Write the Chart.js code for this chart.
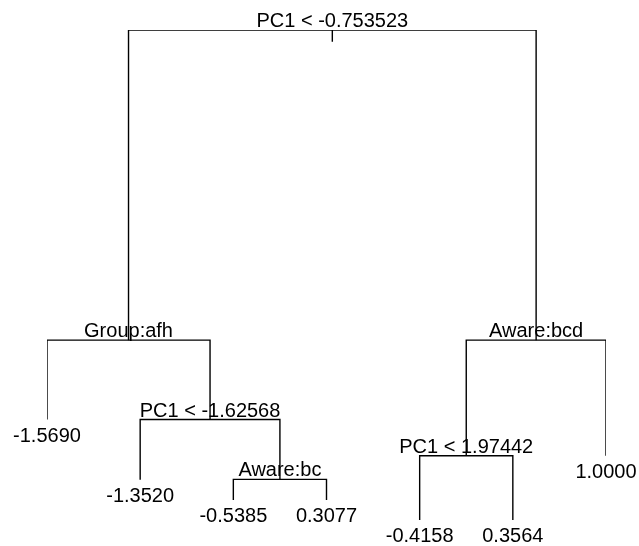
<!DOCTYPE html>
<html>
<head>
<meta charset="utf-8">
<script src="https://cdn.jsdelivr.net/npm/chart.js@4/dist/chart.umd.min.js"></script>
<style>
  html, body { margin: 0; padding: 0; background: #fff; }
  #wrap { width: 639px; height: 546px; }
</style>
</head>
<body>
<div id="wrap"><canvas id="myChart"></canvas></div>
<script>

// regression tree, nodes in pre-order
var nodeLabel = ['PC1 < -0.753523', 'Group:afh', '-1.5690', 'PC1 < -1.62568', '-1.3520',
  'Aware:bc', '-0.5385', '0.3077', 'Aware:bcd', 'PC1 < 1.97442', '-0.4158', '0.3564', '1.0000'];
var nodeParent = [-1, 0, 1, 1, 3, 3, 5, 5, 0, 8, 9, 9, 8];
var leafRank = [null, null, 1, null, 2, null, 3, 4, null, null, 5, 6, 7]; // leaf order left to right
var nodeDev = [100, 36.7, 20.5, 20.5, 8.2, 8.3, 4.1, 4.1, 36.7, 13.1, 0, 0, 13.1]; // height (deviance scale)
var rootStub = 97.6;

function children(i) {
  var c = [];
  nodeParent.forEach((p, j) => { if (p === i) c.push(j); });
  return c;
}

// x of an internal node = middle of its two children
var nodeX = leafRank.slice();
for (let i = nodeLabel.length - 1; i >= 0; i--) {
  if (nodeX[i] === null) {
    let c = children(i);
    nodeX[i] = (nodeX[c[0]] + nodeX[c[1]]) / 2;
  }
}

var datasets = [];
for (let i = 0; i < nodeLabel.length; i++) {
  let c = children(i);
  if (c.length === 2) {
    datasets.push({
      data: [
        { x: nodeX[c[0]], y: nodeDev[c[0]] },
        { x: nodeX[c[0]], y: nodeDev[i] },
        { x: nodeX[c[1]], y: nodeDev[i] },
        { x: nodeX[c[1]], y: nodeDev[c[1]] }
      ]
    });
  }
}
// little tick under the root split
datasets.push({ data: [{ x: nodeX[0], y: nodeDev[0] }, { x: nodeX[0], y: rootStub }] });

datasets.forEach((d) => {
  d.showLine = true;
  d.borderColor = '#000';
  d.borderWidth = 1.4;
  d.pointRadius = 0;
  d.tension = 0;
});

var treeLabels = {
  id: 'treeLabels',
  afterDatasetsDraw(chart) {
    var ctx = chart.ctx;
    var xs = chart.scales.x, ys = chart.scales.y;
    ctx.save();
    ctx.font = '20px "Liberation Sans", Arial, sans-serif';
    ctx.fillStyle = '#000';
    ctx.textAlign = 'center';
    ctx.textBaseline = 'alphabetic';
    for (let i = 0; i < nodeLabel.length; i++) {
      let px = xs.getPixelForValue(nodeX[i]);
      let py = ys.getPixelForValue(nodeDev[i]);
      if (leafRank[i] === null) {
        ctx.fillText(nodeLabel[i], px, py - 3);
      } else {
        ctx.fillText(nodeLabel[i], px, py + 22);
      }
    }
    ctx.restore();
  }
};

var ctx = document.getElementById('myChart').getContext('2d');
var chartjs = new Chart(ctx, {
  type: 'scatter',
  data: { datasets: datasets },
  options: {
    responsive: true,
    maintainAspectRatio: false,
    animation: false,
    layout: { padding: { left: 47, right: 33, top: 30, bottom: 26 } },
    plugins: { legend: { display: false }, tooltip: { enabled: false } },
    scales: {
      x: { type: 'linear', min: 1, max: 7, display: false },
      y: { type: 'linear', min: 0, max: 100, display: false }
    }
  },
  plugins: [treeLabels]
});

</script>
</body>
</html>
